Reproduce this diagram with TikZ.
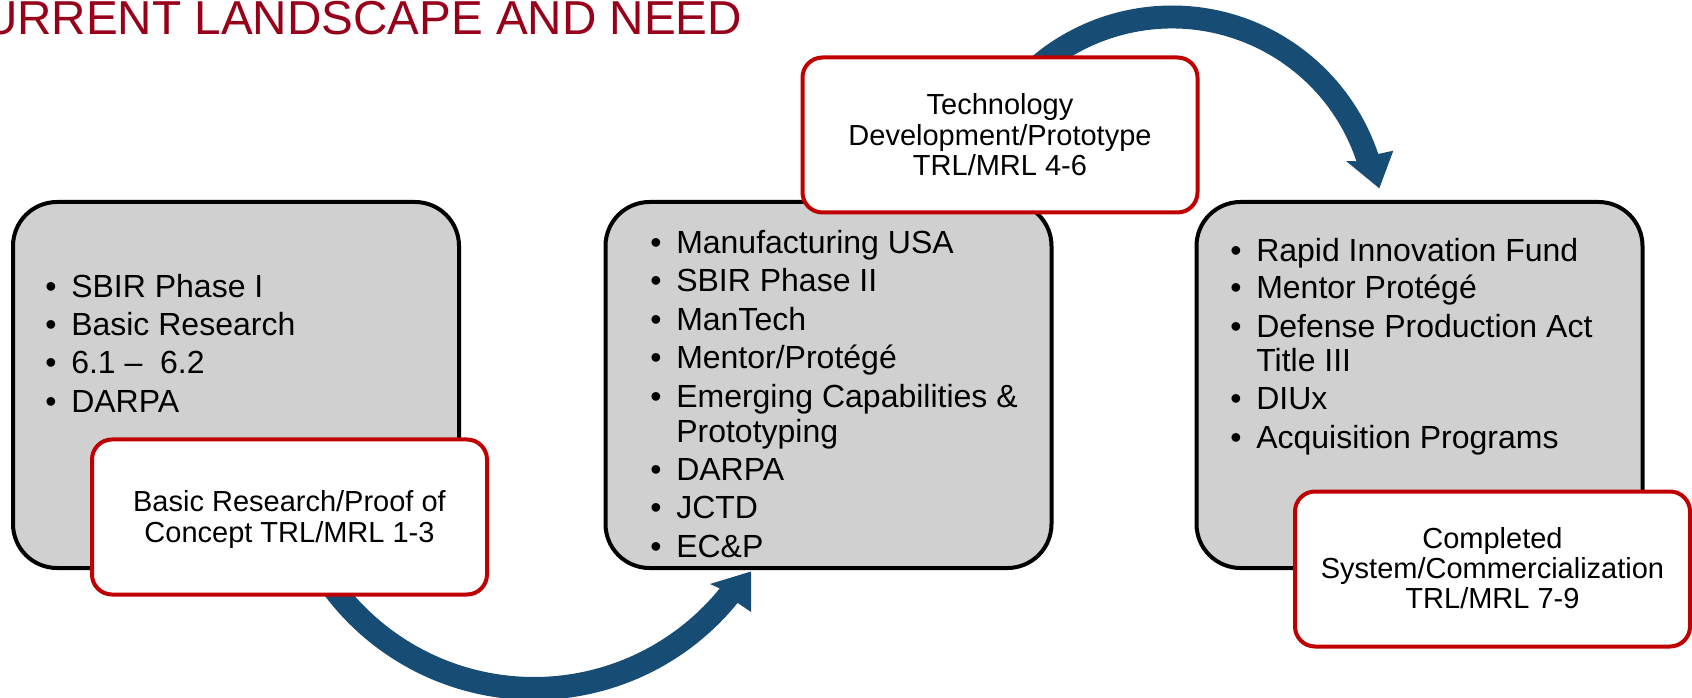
\documentclass[tikz,border=0pt]{standalone}
\usepackage{fontspec}
\setmainfont{Liberation Sans}
\usetikzlibrary{calc}
\definecolor{boxgray}{HTML}{D0D0D0}
\definecolor{boxred}{HTML}{C00000}
\definecolor{arrowblue}{HTML}{174C75}
\definecolor{titlered}{HTML}{98001A}
\newcommand{\bulbox}{\makebox[19.5pt][l]{•}}
\begin{document}
\begin{tikzpicture}[x=0.75pt,y=-0.75pt,
  graybox/.style={draw=black, line width=3pt, fill=boxgray, rounded corners=33pt,
    minimum width=334.5pt, minimum height=274.5pt, inner sep=0pt},
  redbox/.style={draw=boxred, line width=3pt, fill=white, rounded corners=15pt,
    minimum width=296.25pt, minimum height=116.25pt, inner sep=0pt},
  itemtxt/.style={anchor=base west, inner sep=0pt, font=\fontsize{24}{28}\selectfont},
  labtxt/.style={anchor=base, inner sep=0pt, font=\fontsize{21.75}{24}\selectfont},
  titletxt/.style={anchor=base west, inner sep=0pt, text=titlered, font=\fontsize{35.7}{40}\selectfont},
  arrowfill/.style={fill=arrowblue}
]
\useasboundingbox (0,0) rectangle (1692,698);

% title
\node[titletxt] (title) at (-51.5,35) {CURRENT LANDSCAPE AND NEED};

% gray boxes
\node[graybox] (g1) at (236,385) {};
\node[graybox] (g2) at (828.5,385) {};
\node[graybox] (g3) at (1419.5,385) {};

% bottom curved arrow (from red box 1 to gray box 2)
\coordinate (c1) at (534,438);
\coordinate (h1b2) at (751,612);
\coordinate (h1tip) at (751,571.5);
\coordinate (h1b1) at (710,584);
\fill[arrowfill] ($(c1)+(150:262)$) arc[start angle=150, end angle=39, radius=262]
  -- (h1b2) -- (h1tip) -- (h1b1) -- ($(c1)+(39:239)$)
  arc[start angle=39, end angle=150, radius=239] -- cycle;

% top curved arrow (from red box 2 to gray box 3)
\coordinate (c2) at (1172,223);
\coordinate (h2b2) at (1393.3,150.7);
\coordinate (h2tip) at (1379.3,188.3);
\coordinate (h2b1) at (1346,161);
\fill[arrowfill] ($(c2)+(-140:217.5)$) arc[start angle=-140, end angle=-18.5, radius=217.5]
  -- (h2b2) -- (h2tip) -- (h2b1) -- ($(c2)+(-18.5:194.5)$)
  arc[start angle=-18.5, end angle=-140, radius=194.5] -- cycle;

% red boxes
\node[redbox] (r1) at (289.5,517) {};
\node[redbox] (r2) at (1000,135) {};
\node[redbox] (r3) at (1492.5,569) {};

% box 1 items
\node[itemtxt] (a1) at (45,298) {\bulbox SBIR Phase I};
\node[itemtxt] (a2) at (45,336) {\bulbox Basic Research};
\node[itemtxt] (a3) at (45,374) {\bulbox 6.1 –\ \ 6.2};
\node[itemtxt] (a4) at (45,413) {\bulbox DARPA};

% box 2 items
\node[itemtxt] (b1) at (650,254) {\bulbox Manufacturing USA};
\node[itemtxt] (b2) at (650,292) {\bulbox SBIR Phase II};
\node[itemtxt] (b3) at (650,331) {\bulbox ManTech};
\node[itemtxt] (b4) at (650,369) {\bulbox Mentor/Protégé};
\node[itemtxt] (b5) at (650,408) {\bulbox Emerging Capabilities \&};
\node[itemtxt] (b5b) at (676,442) {Prototyping};
\node[itemtxt] (b6) at (650,480) {\bulbox DARPA};
\node[itemtxt] (b7) at (650,518) {\bulbox JCTD};
\node[itemtxt] (b8) at (650,557) {\bulbox EC\&P};

% box 3 items
\node[itemtxt] (d1) at (1230,262) {\bulbox Rapid Innovation Fund};
\node[itemtxt] (d2) at (1230,299) {\bulbox Mentor Protégé};
\node[itemtxt] (d3) at (1230,338) {\bulbox Defense Production Act};
\node[itemtxt] (d3b) at (1256,372) {Title III};
\node[itemtxt] (d4) at (1230,410) {\bulbox DIUx};
\node[itemtxt] (d5) at (1230,449) {\bulbox Acquisition Programs};

% red box labels
\node[labtxt] (r1a) at (289.5,511) {Basic Research/Proof of};
\node[labtxt] (r1b) at (289.5,542) {Concept TRL/MRL 1-3};
\node[labtxt] (r2a) at (1000,115) {Technology};
\node[labtxt] (r2b) at (1000,146) {Development/Prototype};
\node[labtxt] (r2c) at (1000,176) {TRL/MRL 4-6};
\node[labtxt] (r3a) at (1492.5,548) {Completed};
\node[labtxt] (r3b) at (1492.5,578) {System/Commercialization};
\node[labtxt] (r3c) at (1492.5,608) {TRL/MRL 7-9};
\end{tikzpicture}
\end{document}
